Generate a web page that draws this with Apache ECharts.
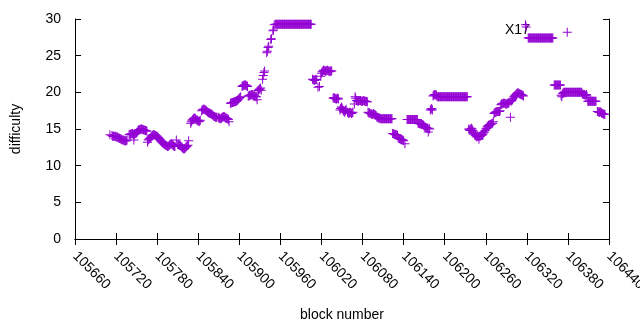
<!DOCTYPE html>
<html>
<head>
<meta charset="utf-8">
<title>difficulty</title>
<script src="https://cdn.jsdelivr.net/npm/echarts@6/dist/echarts.min.js"></script>
</head>
<body style="margin:0">
<div id="chart" style="width:640px;height:330px"></div>
<script>
// runs of consecutive blocks: [first block, [difficulty of each block]]
var runsA = [
  [105711, [14.2]],
  [105714, [14.1,14.0,14.0,14.0,14.0,14.0,13.9,13.9,13.9,13.8,13.8,13.7,13.7,13.6]],
  [105728, [13.6,13.5,13.5,13.5,13.4,13.4,13.4,13.4,13.5]],
  [105739, [14.2,14.3,14.3,14.3,14.4,14.4,14.3,14.2,14.3,14.4,14.4,14.5,14.6]],
  [105746, [13.5]],
  [105752, [14.8,14.9,14.9,14.9,15.0,15.0,15.0,14.9,14.9,14.9,14.8,14.8,14.8,14.7]],
  [105766, [13.2]],
  [105767, [13.5,13.6,13.7,13.8,13.9,14.0,14.1,14.2,14.2,14.2,14.1,14.1,14.0,14.0,13.9,13.8,13.7,13.6]],
  [105785, [13.4,13.3,13.2,13.1,13.0,13.0,12.9,12.8,12.8,12.7,12.6,12.6,12.7,12.8,12.9,13.0,13.0,12.9,12.8,12.7,12.6,12.6]],
  [105808, [13.5]],
  [105810, [12.9,12.9,12.8,12.8,12.7,12.6,12.5,12.4,12.3,12.3,12.3,12.4,12.5,12.6,12.7,12.8]],
  [105826, [13.4]],
  [105829, [15.8,16.0,16.2,16.3,16.4,16.5,16.5,16.4,16.3,16.2,16.2,16.1,16.0,16.1,16.2]]
];

var runsB = [
  [105845, [17.5,17.6,17.7,17.7,17.7,17.6,17.6,17.5,17.4,17.3,17.2]],
  [105856, [17.2,17.1,17.1,17.0,17.0,16.9,16.8,16.7,16.7,16.6,16.6,16.6]],
  [105869, [16.6,16.5,16.5,16.4,16.4,16.5,16.6,16.6,16.7,16.7,16.6,16.5,16.5,16.4,16.4,16.3,16.0]],
  [105887, [18.5,18.5,18.6,18.6,18.6,18.7,18.7,18.7,18.8,18.8,18.9,19.0,19.1,19.2,19.3,19.4]],
  [105904, [20.8,20.9,20.9,21.0,21.0,21.0,20.9,20.9,20.8]],
  [105913, [19.5,19.5,19.6,19.6,19.6,19.7,19.7,19.6,19.5,19.5,19.5,19.4,19.4]],
  [105926, [19.0,20.2,20.3,20.4,20.5,20.6,20.3]],
  [105934, [21.8,22.3,22.7,22.9]],
  [105940, [25.4,25.6,26.1,26.3]],
  [105946, [27.2,27.3]],
  [105949, [28.4,28.5]],
  [105951, [29.2]],
  [105953, [29.3,29.3,29.3,29.3,29.3,29.3,29.3,29.3,29.3,29.3,29.3,29.3,29.3,29.3,29.3,29.3,29.3,29.3,
            29.3,29.3,29.3,29.3,29.3,29.3,29.3,29.3,29.3,29.3,29.3,29.3,29.3,29.3,29.3,29.3,29.3,29.3,
            29.3,29.3,29.3,29.3,29.3,29.3,29.3,29.3,29.3,29.3,29.3,29.3,29.3,29.3,29.3,29.3,29.3]]
];

var runsC = [
  [106007, [21.8,21.7,21.7,21.6,21.7,21.8,21.7]],
  [106015, [20.7]],
  [106017, [20.8]],
  [106019, [22.2,22.6]],
  [106021, [22.8,22.9,23.0,23.0,22.9,22.9,22.9,23.0,23.0,22.9,22.9,22.8,22.9,22.9,22.9]],
  [106037, [19.2,19.3,19.2,19.2,19.1,19.1,19.2,19.2,19.1]],
  [106047, [17.6,17.8,18.0,17.9,17.7,17.5,17.4,17.3,17.5,17.7]],
  [106058, [17.3,17.2,17.1,17.2,17.3,17.2,17.1,17.2,17.3]],
  [106068, [18.4,19.4,19.2]],
  [106071, [18.9,18.9,18.8,18.8,18.9,18.9,18.9,18.8,18.8,18.8,18.9,18.9,18.8,18.8,18.8,18.7,18.7]],
  [106088, [17.3,17.2,17.2,17.1,17.1,17.0,17.0,17.0,17.1,17.0,16.9,16.9,16.8]],
  [106101, [16.6,16.6,16.5,16.5,16.5,16.4,16.4]],
  [106108, [16.4,16.4,16.4,16.4,16.4,16.4,16.4,16.4,16.4,16.4,16.4,16.4,16.4,16.4,16.4,16.4]],
  [106124, [14.4,14.4,14.3,14.3,14.2,14.2,14.2,14.1]],
  [106132, [13.8,13.7,13.7,13.6,13.6,13.6,13.5,13.5,13.4]],
  [106142, [13.0]],
  [106145, [16.3,16.3,16.3,16.3,16.3,16.3,16.3,16.3,16.3,16.3,16.3,16.3,16.3,16.3,16.3,16.3]],
  [106161, [15.8,15.8,15.7,15.7,15.7,15.6,15.6,15.6,15.5,15.4]],
  [106171, [15.3,15.2,15.2,15.1,15.1,14.6,15.1,15.0]],
  [106179, [17.6,17.7,17.8,17.6]],
  [106183, [19.5,19.6,19.7,19.7,19.6,19.6,
            19.4,19.4,19.4,19.4,19.4,19.4,19.4,19.4,19.4,19.4,19.4,19.4,19.4,19.4,19.4,
            19.4,19.4,19.4,19.4,19.4,19.4,19.4,19.4,19.4,19.4,19.4,19.4,19.4,19.4,19.4,
            19.4,19.4,19.4,19.4,19.4,19.4,19.4,19.4,19.4,19.4,19.4,19.4,19.4,19.4,19.4]]
];

var runsD = [
  [106235, [15.0,14.9,14.8,15.0,15.1,15.0,14.8,14.6,14.4]],
  [106244, [14.2,14.1,14.0,13.9,14.0,14.0,13.6,14.0,14.0,14.1,14.1,14.2,14.3,14.5,14.6]],
  [106259, [14.8,15.0,15.1,15.3,15.4,15.5,15.5,15.6,15.6,15.7,15.7,15.8,16.0]],
  [106272, [17.1,17.2,17.3,17.3,17.4,17.4,17.4,17.4,17.4,17.5]],
  [106282, [18.3,18.4,18.4,18.5,18.5,18.5,18.5,18.4,18.4,18.4,18.5,18.5,18.6]],
  [106296, [16.6]],
  [106297, [18.8,18.9,19.0,19.2,19.4,19.5]],
  [106303, [19.6,19.7,19.8,19.9,19.9,19.9,19.8,19.8,19.7,19.7,19.6,19.6,19.5]],
  [106318, [29.2,28.9]],
  [106322, [27.4,27.4,27.4,27.4,27.4,27.4,27.4,27.4,27.4,27.4,27.4,27.4,27.4,27.4,27.4,27.4,27.4,27.4,27.4,
            27.4,27.4,27.4,27.4,27.4,27.4,27.4,27.4,27.4,27.4,27.4,27.4,27.4,27.4,27.4,27.4,27.4,27.4]],
  [106360, [21.0,21.0,21.0,21.0,21.0,21.0,21.0,21.0,21.0,21.0]],
  [106370, [19.6,19.4,19.8,19.9]],
  [106374, [20.0,20.0,20.0,20.0,20.0,20.0,20.0,20.0,20.0,20.0,20.0,20.0,20.0,20.0,20.0,20.0,20.0,20.0,
            20.0,20.0,20.0,20.0,20.0,20.0,20.0,20.0,20.0]],
  [106379, [28.2]],
  [106401, [19.8,19.7,19.7,19.7,19.6,19.6,19.7,19.5]],
  [106409, [18.8,18.8,18.8,18.8,18.8,18.8,18.8,18.8,18.8,18.8,18.8,18.8,18.8]],
  [106423, [17.4,17.4,17.3,17.3,17.4,17.3,17.2,17.1,17.1,17.0,17.0,17.0]]
];

var xMin = 105660, xMax = 106440, xStep = 60;
var yMin = 0, yMax = 30, yStep = 5;

var points = [];
[runsA, runsB, runsC, runsD].forEach(function (runs) {
  runs.forEach(function (r) {
    r[1].forEach(function (v, i) { points.push([r[0] + i, v]); });
  });
});

var font = 'Liberation Sans, Arial, sans-serif';
var line = { lineStyle: { color: '#000', width: 1 } };
var tick = { inside: true, length: 6, lineStyle: { color: '#000', width: 1 } };

var chart = echarts.init(document.getElementById('chart'));
chart.setOption({
  animation: false,
  grid: { left: 75, right: 31, top: 19, bottom: 91, containLabel: false, outerBoundsMode: 'none' },
  xAxis: [{
    type: 'value', position: 'bottom', min: xMin, max: xMax, interval: xStep,
    name: 'block number', nameLocation: 'middle', nameGap: 69,
    nameTextStyle: { fontFamily: font, fontSize: 14, color: '#000' },
    axisLine: line, axisTick: tick, splitLine: { show: false },
    axisLabel: { rotate: -45, margin: 15, fontFamily: font, fontSize: 14, color: '#000',
                 showMaxLabel: true, formatter: function (v) { return String(v); } }
  }, {
    type: 'value', position: 'top', min: xMin, max: xMax, interval: xStep,
    axisLine: line, axisTick: tick, axisLabel: { show: false }, splitLine: { show: false }
  }],
  yAxis: [{
    type: 'value', position: 'left', min: yMin, max: yMax, interval: yStep,
    name: 'difficulty', nameLocation: 'middle', nameGap: 52, nameRotate: 90,
    nameTextStyle: { fontFamily: font, fontSize: 14, color: '#000' },
    axisLine: line, axisTick: tick, splitLine: { show: false },
    axisLabel: { margin: 14, fontFamily: font, fontSize: 14, color: '#000' }
  }, {
    type: 'value', position: 'right', min: yMin, max: yMax, interval: yStep,
    axisLine: line, axisTick: tick, axisLabel: { show: false }, splitLine: { show: false }
  }],
  graphic: [{
    type: 'text', left: 505, top: 23,
    style: { text: 'X17', font: '14px ' + font, fill: '#000' }
  }],
  series: [{
    type: 'scatter',
    data: points,
    symbol: 'path://M0,4H9V5H0Z M4,0H5V9H4Z',
    symbolSize: 9,
    itemStyle: { color: '#9400d3', opacity: 1 },
    emphasis: { disabled: true }
  }]
});
</script>
</body>
</html>
